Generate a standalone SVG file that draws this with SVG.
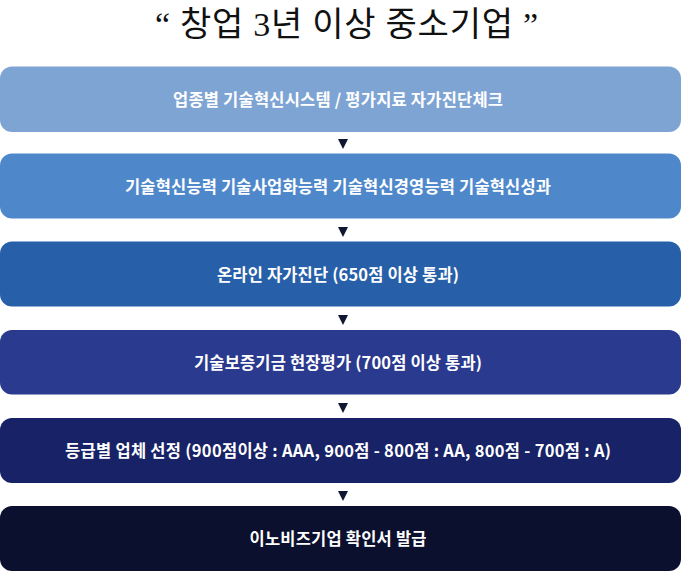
<svg xmlns="http://www.w3.org/2000/svg" width="681" height="573" viewBox="0 0 681 573">
<style>
.title{font-family:"Liberation Serif","Noto Sans CJK KR",serif;font-size:34px;fill:#111;}
.lbl{font-family:"Noto Sans CJK KR","Noto Sans",sans-serif;font-size:16.5px;font-weight:700;fill:#ffffff;text-anchor:middle;}
.arr{fill:#111633;}
</style>
<rect width="681" height="573" fill="#ffffff"/>
<g id="title"><text class="title" x="155" y="36" textLength="383" lengthAdjust="spacing">“ 창업 3년 이상 중소기업 ”</text></g>
<g id="n1"><rect x="0" y="66.5" width="681" height="65.5" rx="12" fill="#7ea4d4"/><text class="lbl" x="338" y="105.5" textLength="330" lengthAdjust="spacing">업종별 기술혁신시스템 / 평가지료 자가진단체크</text></g>
<g id="n2"><rect x="0" y="153.5" width="681" height="65" rx="12" fill="#4e88cb"/><text class="lbl" x="338" y="192.5" textLength="426" lengthAdjust="spacing">기술혁신능력 기술사업화능력 기술혁신경영능력 기술혁신성과</text></g>
<g id="n3"><rect x="0" y="241.5" width="681" height="65" rx="12" fill="#2760a9"/><text class="lbl" x="338" y="280.5" textLength="242" lengthAdjust="spacing">온라인 자가진단 (650점 이상 통과)</text></g>
<g id="n4"><rect x="0" y="330" width="681" height="64.5" rx="12" fill="#2a3a8e"/><text class="lbl" x="338" y="368.5" textLength="288" lengthAdjust="spacing">기술보증기금 현장평가 (700점 이상 통과)</text></g>
<g id="n5"><rect x="0" y="418" width="681" height="65" rx="12" fill="#182266"/><text class="lbl" x="338" y="456.5" textLength="546" lengthAdjust="spacing">등급별 업체 선정 (900점이상 : AAA, 900점 - 800점 : AA, 800점 - 700점 : A)</text></g>
<g id="n6"><rect x="0" y="506" width="681" height="65" rx="12" fill="#0b102e"/><text class="lbl" x="338" y="545" textLength="177" lengthAdjust="spacing">이노비즈기업 확인서 발급</text></g>
<g id="connectors">
<polygon class="arr" points="338,139 348,139 343,149"/>
<polygon class="arr" points="338,227 348,227 343,237"/>
<polygon class="arr" points="338,315 348,315 343,325"/>
<polygon class="arr" points="338,403 348,403 343,413"/>
<polygon class="arr" points="338,491 348,491 343,501"/>
</g>
</svg>
